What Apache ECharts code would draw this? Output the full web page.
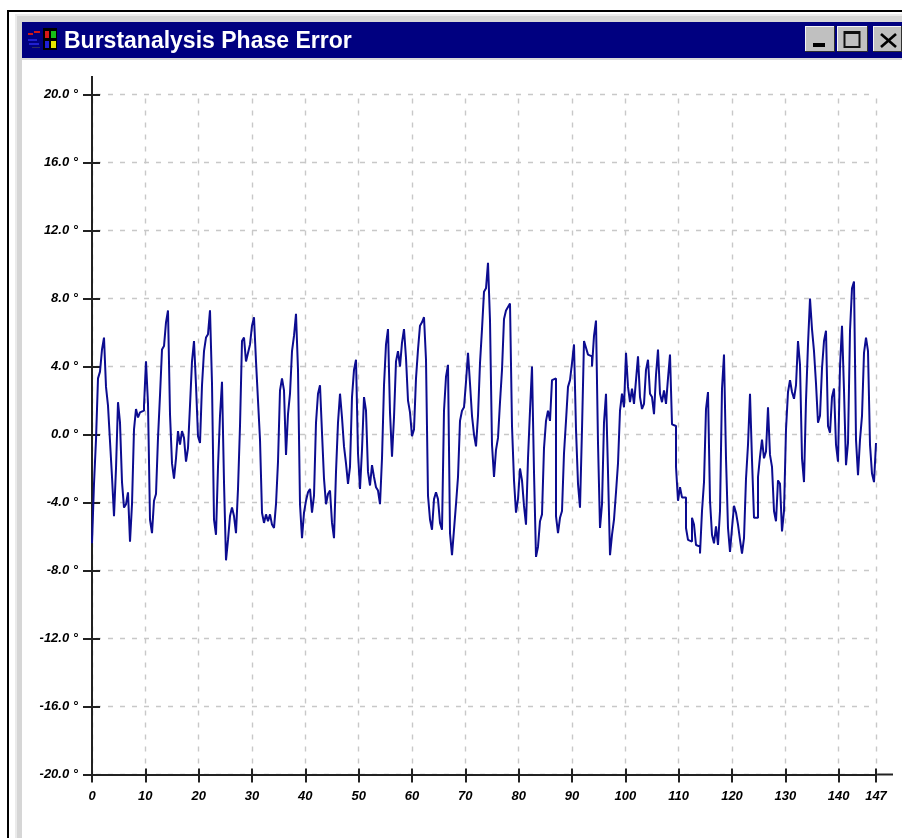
<!DOCTYPE html>
<html>
<head>
<meta charset="utf-8">
<style>html,body{margin:0;padding:0;background:#fff}#c{width:902px;height:838px;filter:blur(0.45px)}</style>
<script src="https://cdn.jsdelivr.net/npm/echarts@6/dist/echarts.min.js"></script>
</head>
<body>
<div id="c"></div>
<script>
const titleText = "Burstanalysis Phase Error";
const xMax = 147;
const sampleStep = 0.375;
const yTicksMin = -20, yTicksMax = 20, yTickStep = 4, xTickStep = 10;

const phase0to37 = [-6.4,-2.9,-0.3,3.3,3.7,5.0,5.7,2.8,1.7,-0.4,-2.5,-4.8,-2.0,1.9,0.7,-2.8,-4.3,-4.1,-3.4,-6.3,-4.1,0.3,1.5,1.0,1.3,1.4,1.7,4.3,1.8,-5.0,-5.8,-3.9,-3.5,-0.2,2.3,5.0,5.2,6.6,7.3,1.2,-1.7,-2.6,-1.4,0.2,-0.6,0.2,-0.2,-1.6,-0.8,1.7,4.3,5.5,2.9,-0.1,-0.5,2.9,4.9,5.7,5.9,7.3,3.0,-5.0,-5.9,-1.9,1.1,3.1,-2.8,-7.4,-6.2,-4.8,-4.3,-4.8,-5.8,-3.2,0.5,5.5,5.7,4.3,4.8,5.3,6.4,6.9,4.3,2.0,-0.3,-4.6,-5.2,-4.7,-5.1,-4.7,-5.3,-5.5,-4.1,-1.6,2.6,3.3,2.6,-1.2,1.2,2.4,4.9];
const phase38to74 = [5.8,7.1,3.8,-4.1,-6.1,-4.6,-3.9,-3.4,-3.2,-4.6,-3.6,0.7,2.4,2.9,0.1,-2.6,-4.1,-3.5,-3.3,-5.2,-6.1,-2.2,0.7,2.4,1.0,-0.7,-1.7,-2.9,-1.9,2.2,3.8,4.4,-1.1,-3.2,-0.9,2.2,1.4,-2.2,-3.0,-1.8,-2.5,-3.1,-3.3,-4.1,-1.4,2.9,5.3,6.2,1.3,-1.3,1.0,4.3,4.9,4.0,5.4,6.2,4.5,2.0,1.3,-0.1,0.3,3.3,5.0,6.4,6.6,6.9,4.4,-3.6,-5.0,-5.6,-3.8,-3.4,-3.8,-5.2,-5.6,1.4,3.4,4.1,-5.8,-7.1,-5.6,-4.1,-2.5,0.8,1.4,1.6,3.1,4.8,3.0,1.1,0.0,-0.7,1.1,4.2,6.2,8.4,8.6,10.1,6.7];
const phase75to111 = [-0.6,-2.5,-0.9,-0.2,1.9,3.8,6.8,7.3,7.5,7.7,0.5,-2.7,-4.6,-3.8,-2.0,-2.7,-4.2,-5.3,-1.4,1.4,4.0,-2.2,-7.2,-6.6,-5.1,-4.7,-0.8,0.8,1.4,0.8,3.2,3.3,-4.8,-5.8,-4.9,-4.5,-1.1,0.8,2.8,3.2,4.2,5.3,0.3,-2.9,-4.3,0.3,5.5,5.1,4.7,4.6,4.0,5.8,6.7,-0.5,-5.5,-4.1,0.7,2.4,-2.2,-7.1,-5.9,-5.0,-3.4,-1.7,1.4,2.4,1.6,4.8,2.8,1.9,2.7,1.8,3.2,4.6,2.2,1.5,1.8,3.8,4.4,2.4,2.2,1.2,3.5,5.0,2.4,1.9,2.6,1.8,3.3,4.7,0.6,0.5,-1.9,-3.9,-3.1,-3.7,-3.7,-5.5,-6.2];
const phase112to147 = [-6.3,-4.9,-5.3,-6.5,-6.6,-7.0,-4.5,-2.8,1.5,2.5,-3.9,-5.9,-6.4,-5.4,-6.5,-4.5,2.7,4.7,-1.4,-5.5,-6.9,-5.5,-4.2,-4.6,-5.3,-6.2,-7.0,-6.1,-2.6,-0.6,2.4,-1.5,-4.9,-4.9,-2.5,-1.3,-0.3,-1.4,-1.0,1.6,-1.2,-1.9,-4.5,-5.1,-2.7,-2.9,-5.7,-4.5,0.3,2.5,3.2,2.5,2.1,2.9,5.5,4.1,-1.4,-2.8,2.0,5.3,8.0,6.2,4.9,3.0,0.7,1.1,3.9,5.5,6.1,0.5,0.1,2.2,2.7,-0.6,-1.6,4.0,6.4,2.6,-1.8,-0.5,6.1,8.6,9.0,-0.3,-2.4,-0.3,1.1,4.8,5.7,4.9,-0.6,-2.3,-2.8,-0.5];

const phase = [...phase0to37, ...phase38to74, ...phase75to111, ...phase112to147];
const seriesData = phase.map((v, i) => [i * sampleStep, v]);

const line = (x1, y1, x2, y2, stroke, lineWidth) => ({ type: 'line', silent: true, shape: { x1, y1, x2, y2 }, style: { stroke, lineWidth } });
const rect = (x, y, width, height, fill) => ({ type: 'rect', silent: true, shape: { x, y, width, height }, style: { fill } });
const button = (x, w) => [rect(x, 26, w, 26, '#c0c0c0'), line(x, 26.5, x + w, 26.5, '#f4f4f4', 1), line(x + 0.5, 26, x + 0.5, 52, '#f4f4f4', 1), line(x, 51.5, x + w, 51.5, '#303030', 1), line(x + w - 0.5, 26, x + w - 0.5, 52, '#303030', 1)];

const chrome = [
  rect(0, 0, 902, 838, '#fff'),
  rect(7, 10, 895, 2, '#000'), rect(7, 10, 2, 828, '#000'),
  rect(15, 14, 887, 8, '#d6d6d6'), rect(15, 14, 7, 824, '#d6d6d6'),
  rect(15, 14, 2, 824, '#ebebeb'), rect(15, 14, 887, 2, '#ebebeb'),
  rect(22, 22, 880, 36, '#000080'), rect(22, 58, 880, 2, '#d8d8d8'),
  // window icon
  rect(28, 33, 5, 2, '#d01818'), rect(34, 31, 6, 2, '#d01818'), rect(28, 39, 9, 2, '#2020d0'), rect(29, 43, 10, 2, '#2020d0'), rect(32, 47, 8, 1, '#303060'),
  rect(43, 28, 14, 22, '#000'), rect(45, 31, 4, 7, '#d81818'), rect(51, 31, 5, 7, '#18c018'), rect(45, 41, 4, 7, '#2020d8'), rect(51, 41, 5, 7, '#e8e800'),
  // window buttons
  ...button(805, 30), ...button(837, 31), ...button(873, 29),
  rect(813, 43, 12, 4, '#000'),
  { type: 'rect', silent: true, shape: { x: 844.5, y: 32, width: 15, height: 15 }, style: { fill: 'none', stroke: '#101010', lineWidth: 2 } },
  rect(844, 31, 16, 3, '#101010'),
  line(881, 34, 896, 47, '#000', 2.6), line(896, 34, 881, 47, '#000', 2.6),
  // axis overshoot beyond the plot area
  line(92, 76, 92, 95, '#222', 2), line(876, 774.5, 893, 774.5, '#222', 2)
];

const labelFont = { fontFamily: 'Liberation Sans', fontStyle: 'italic', fontWeight: 'bold', fontSize: 13, color: '#000' };
const grid = { left: 92, top: 94.5, width: 784, height: 680 };
const yFormatter = v => `${Number(v).toFixed(1)} °`;

const option = {
  animation: false,
  backgroundColor: '#fff',
  title: {
    text: titleText, left: 64, top: 30, padding: 0,
    textStyle: { color: '#fff', fontFamily: 'Liberation Sans', fontWeight: 'bold', fontSize: 23 }, z: 20
  },
  grid,
  graphic: { elements: chrome },
  xAxis: [
    { type: 'value', min: 0, max: xMax, interval: xTickStep, position: 'bottom',
      axisLine: { onZero: false, lineStyle: { color: '#222', width: 2 } },
      axisTick: { length: 8, lineStyle: { color: '#222', width: 2 } },
      axisLabel: { ...labelFont, margin: 15, showMinLabel: true, showMaxLabel: true, hideOverlap: false },
      splitLine: { show: true, lineStyle: { color: '#c8c8c8', width: 1.4, type: [5, 7], dashOffset: 8 } } },
    { type: 'value', min: 0, max: xMax, interval: xTickStep, position: 'bottom',
      axisLine: { show: false, onZero: false }, axisTick: { inside: true, length: 6, lineStyle: { color: '#222', width: 2 } },
      axisLabel: { show: false }, splitLine: { show: false } }
  ],
  yAxis: [
    { type: 'value', min: yTicksMin, max: yTicksMax, interval: yTickStep, position: 'left',
      axisLine: { onZero: false, lineStyle: { color: '#222', width: 2 } },
      axisTick: { length: 9, lineStyle: { color: '#222', width: 2 } },
      axisLabel: { ...labelFont, margin: 14, formatter: yFormatter },
      splitLine: { show: true, lineStyle: { color: '#c8c8c8', width: 1.4, type: [5, 7], dashOffset: 8 } } },
    { type: 'value', min: yTicksMin, max: yTicksMax, interval: yTickStep, position: 'left',
      axisLine: { show: false, onZero: false }, axisTick: { inside: true, length: 8, lineStyle: { color: '#222', width: 2 } },
      axisLabel: { show: false }, splitLine: { show: false } }
  ],
  series: [{
    type: 'line', step: 'end', symbol: 'none', xAxisIndex: 0, yAxisIndex: 0,
    lineStyle: { color: '#0c0c90', width: 2 }, data: seriesData, z: 5
  }]
};
const chart = echarts.init(document.getElementById('c'), null, { renderer: 'canvas' });
chart.setOption(option);
</script>
</body>
</html>
